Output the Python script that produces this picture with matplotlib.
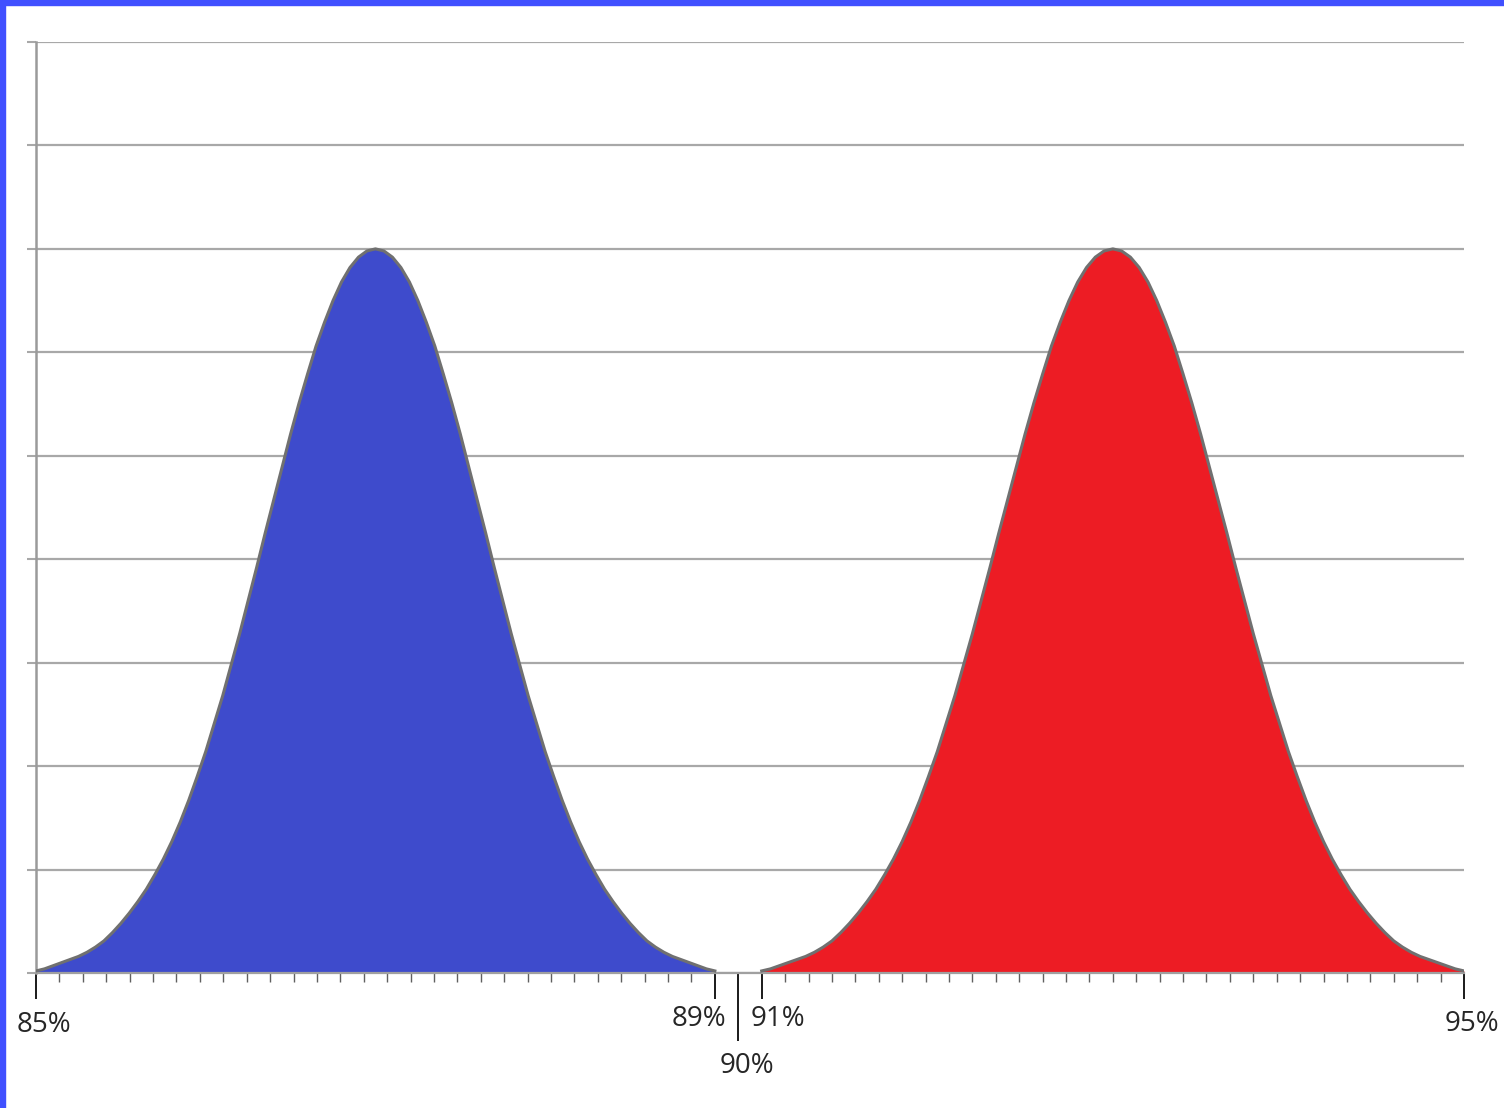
import numpy as np
import matplotlib.pyplot as plt
from matplotlib.patches import Rectangle

plt.rcParams['font.family'] = ['Open Sans', 'DejaVu Sans']

# axis breaks: percent value -> position on the (uniform) tick lattice
pct_breaks = [85, 89, 90, 91, 95]
idx_breaks = [0, 29, 30, 31, 61]
tick_labels = ['85%', '89%', '90%', '91%', '95%']

# curve heights (grid units), every 0.05 %
blue_x = np.round(np.arange(85.0, 89.001, 0.05), 2)
blue_y = [0.02, 0.04, 0.07, 0.10, 0.13, 0.16, 0.20, 0.25, 0.31, 0.39,
          0.48, 0.58, 0.69, 0.81, 0.95, 1.10, 1.27, 1.46, 1.67, 1.90,
          2.14, 2.41, 2.68, 2.98, 3.28, 3.60, 3.92, 4.25, 4.57, 4.89,
          5.21, 5.51, 5.79, 6.06, 6.29, 6.50, 6.68, 6.82, 6.92, 6.98,
          7.00,
          6.98, 6.92, 6.82, 6.68, 6.50, 6.29, 6.06, 5.79, 5.51, 5.21,
          4.89, 4.57, 4.25, 3.92, 3.60, 3.28, 2.98, 2.68, 2.41, 2.14,
          1.90, 1.67, 1.46, 1.27, 1.10, 0.95, 0.81, 0.69, 0.58, 0.48,
          0.39, 0.31, 0.25, 0.20, 0.16, 0.13, 0.10, 0.07, 0.04, 0.02]
red_x = np.round(np.arange(91.0, 95.001, 0.05), 2)
red_y = [0.02, 0.04, 0.07, 0.10, 0.13, 0.16, 0.20, 0.25, 0.31, 0.39,
         0.48, 0.58, 0.69, 0.81, 0.95, 1.10, 1.27, 1.46, 1.67, 1.90,
         2.14, 2.41, 2.68, 2.98, 3.28, 3.60, 3.92, 4.25, 4.57, 4.89,
         5.21, 5.51, 5.79, 6.06, 6.29, 6.50, 6.68, 6.82, 6.92, 6.98,
         7.00,
         6.98, 6.92, 6.82, 6.68, 6.50, 6.29, 6.06, 5.79, 5.51, 5.21,
         4.89, 4.57, 4.25, 3.92, 3.60, 3.28, 2.98, 2.68, 2.41, 2.14,
         1.90, 1.67, 1.46, 1.27, 1.10, 0.95, 0.81, 0.69, 0.58, 0.48,
         0.39, 0.31, 0.25, 0.20, 0.16, 0.13, 0.10, 0.07, 0.04, 0.02]


def fwd(x):
    return np.interp(x, pct_breaks, idx_breaks)


def inv(i):
    return np.interp(i, idx_breaks, pct_breaks)


fig = plt.figure(figsize=(15.04, 11.08), dpi=100)
ax = fig.add_axes([36 / 1504, 135 / 1108, 1428 / 1504, 931 / 1108])
ax.set_xscale('function', functions=(fwd, inv))
ax.set_xlim(85, 95)
ax.set_ylim(0, 9)

ax.fill_between(blue_x, blue_y, color='#3e4bcc', lw=0, zorder=2)
ax.fill_between(red_x, red_y, color='#ed1c24', lw=0, zorder=2)
ax.plot(blue_x, blue_y, color='#707070', lw=2.2, zorder=3, solid_joinstyle='round')
ax.plot(red_x, red_y, color='#707070', lw=2.2, zorder=3, solid_joinstyle='round')

# grid / spines
ax.set_yticks(range(0, 10))
ax.set_yticklabels([])
ax.grid(axis='y', color='#a8a8a8', lw=1.6)
ax.set_axisbelow(True)
ax.tick_params(axis='y', length=6.5, width=1.5, color='#a8a8a8', direction='out')
for s in ['top', 'right']:
    ax.spines[s].set_visible(False)
ax.spines['left'].set_color('#9a9a9a')
ax.spines['left'].set_linewidth(1.8)
ax.spines['bottom'].set_color('#a0a0a0')
ax.spines['bottom'].set_linewidth(1.6)

# x ticks
minor_idx = [i for i in range(1, 61) if i not in (29, 30, 31)]
ax.set_xticks(inv(np.array(minor_idx, dtype=float)), minor=True)
ax.set_xticks(pct_breaks)
ax.set_xticklabels([])
ax.tick_params(axis='x', which='major', length=19, width=1.4, color='#1a1a1a')
ax.tick_params(axis='x', which='minor', length=6.5, width=1.0, color='#606060')
ax.xaxis.get_major_ticks()[2].tick1line.set_markersize(49)

# tick labels placed by hand (offset like the original)
label_off = [(6, -42.5), (-11.5, -38), (6, -72), (12, -38), (6, -41.5)]
for v, lab, (dx, dy) in zip(pct_breaks, tick_labels, label_off):
    ax.annotate(lab, xy=(v, 0), xycoords=('data', 'axes fraction'),
                xytext=(dx, dy), textcoords='offset points',
                ha='center', va='baseline', fontsize=20, color='#262626')

# blue frame on top and left edge
fig.patches.append(Rectangle((0, 1 - 5 / 1108), 1, 5 / 1108, transform=fig.transFigure,
                             color='#4050ff', zorder=10))
fig.patches.append(Rectangle((0, 0), 5 / 1504, 1, transform=fig.transFigure,
                             color='#4050ff', zorder=10))

fig.savefig('out.png', dpi=100)
